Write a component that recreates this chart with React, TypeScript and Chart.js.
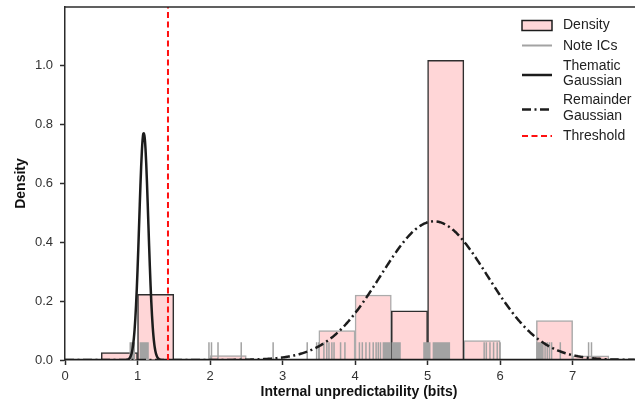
import React, { useEffect, useRef } from "react";
import { Chart, registerables } from "chart.js";

Chart.register(...registerables);

const FONT = '"Liberation Sans", Arial, Helvetica, sans-serif';

// Histogram bins (left edge, density); bin width 0.5 bits
const BIN_WIDTH = 0.5;
const BIN_STARTS_OUTLINED = [0.5, 1.0, 4.5, 5.0];
const DENSITY_OUTLINED = [0.025, 0.223, 0.167, 1.019];
const BIN_STARTS_PALE = [2.0, 3.5, 4.0, 5.5, 6.5, 7.0];
const DENSITY_PALE = [0.015, 0.1, 0.221, 0.066, 0.134, 0.014];

// Internal unpredictability of each note (rug marks)
const NOTE_ICS = [
  0.9, 0.92, 0.94, 0.955, 1.04, 1.055, 1.07, 1.085, 1.1, 1.115, 1.13, 1.145,
  1.985, 2.02, 2.11, 2.43, 2.87, 3.34,
  3.47, 3.5, 3.57, 3.61, 3.64, 3.68, 3.71, 3.8, 3.86,
  4.06, 4.1, 4.15, 4.2, 4.25, 4.29, 4.32, 4.35, 4.39, 4.41, 4.43, 4.45, 4.47,
  4.49, 4.52, 4.54, 4.56, 4.58, 4.6, 4.62,
  4.95, 4.97, 4.99, 5.01, 5.03, 5.08, 5.1, 5.12, 5.14, 5.16, 5.18, 5.2, 5.22,
  5.24, 5.26, 5.28, 5.3,
  5.78, 5.81, 5.86, 5.91, 5.96, 6.0,
  6.51, 6.53, 6.55, 6.57, 6.59, 6.62, 6.65, 6.68, 6.71, 6.83,
  7.22, 7.26,
];
const RUG_HEIGHT = 0.06;

// Two-component mixture fit: weight, mean, standard deviation
const THEMATIC_FIT = { weight: 0.122, mean: 1.086, sd: 0.063 };
const REMAINDER_FIT = { weight: 0.872, mean: 5.088, sd: 0.738 };
const THRESHOLD = 1.42;

const X_MIN = 0;
const X_MAX = 7.86;
const Y_MIN = 0;
const Y_MAX = 1.2;
const X_TICKS = [0, 1, 2, 3, 4, 5, 6, 7];
const Y_TICKS = [0, 0.2, 0.4, 0.6, 0.8, 1.0];

const BAR_FILL = "#ffd6d7";
const DARK = "#1c1c1c";
const AXIS = "#2b2b2b";
const RUG = "#a3a3a3";
const RED = "#ff1010";

function gaussianCurve(fit: { weight: number; mean: number; sd: number }) {
  const pts: { x: number; y: number }[] = [];
  const step = 0.01;
  const n = Math.round((X_MAX - X_MIN) / step);
  for (let i = 0; i <= n; i++) {
    const x = X_MIN + i * step;
    const z = (x - fit.mean) / fit.sd;
    const y = (fit.weight / (fit.sd * Math.sqrt(2 * Math.PI))) * Math.exp(-0.5 * z * z);
    pts.push({ x, y });
  }
  return pts;
}

function rugPoints(values: number[]) {
  const pts: { x: number; y: number | null }[] = [];
  values.forEach((v) => {
    pts.push({ x: v, y: 0 });
    pts.push({ x: v, y: RUG_HEIGHT });
    pts.push({ x: v, y: null });
  });
  return pts;
}

const overlayPlugin = {
  id: "overlay",
  afterDraw(chart: any) {
    const { ctx, chartArea } = chart;
    ctx.save();

    // top spine
    ctx.strokeStyle = AXIS;
    ctx.lineWidth = 1.5;
    ctx.beginPath();
    ctx.moveTo(chartArea.left, chartArea.top);
    ctx.lineTo(chart.width, chartArea.top);
    ctx.stroke();

    // axis titles
    ctx.fillStyle = "#111";
    ctx.font = `bold 14px ${FONT}`;
    ctx.textAlign = "center";
    ctx.textBaseline = "middle";
    ctx.fillText("Internal unpredictability (bits)", 359, 392);
    ctx.save();
    ctx.translate(21, (chartArea.top + chartArea.bottom) / 2);
    ctx.rotate(-Math.PI / 2);
    ctx.fillText("Density", 0, 0);
    ctx.restore();

    // legend
    const x0 = 522;
    const x1 = 552;
    const tx = 563;
    ctx.textAlign = "left";
    ctx.font = `14px ${FONT}`;

    ctx.fillStyle = BAR_FILL;
    ctx.fillRect(x0, 20.5, x1 - x0, 10);
    ctx.strokeStyle = DARK;
    ctx.lineWidth = 1.5;
    ctx.strokeRect(x0, 20.5, x1 - x0, 10);

    const seg = (y: number, color: string, width: number, dash: number[]) => {
      ctx.strokeStyle = color;
      ctx.lineWidth = width;
      ctx.setLineDash(dash);
      ctx.beginPath();
      ctx.moveTo(x0, y);
      ctx.lineTo(x1, y);
      ctx.stroke();
      ctx.setLineDash([]);
    };
    seg(45.5, RUG, 2, []);
    seg(75, DARK, 2.5, []);
    seg(109.5, DARK, 2.5, [9, 3.5, 2, 3.5]);
    seg(136, RED, 2, [6, 3.5]);

    ctx.fillStyle = "#222";
    ctx.fillText("Density", tx, 25.5);
    ctx.fillText("Note ICs", tx, 46);
    ctx.fillText("Thematic", tx, 66);
    ctx.fillText("Gaussian", tx, 81);
    ctx.fillText("Remainder", tx, 100.5);
    ctx.fillText("Gaussian", tx, 116.5);
    ctx.fillText("Threshold", tx, 136);

    ctx.restore();
  },
};

export default function App() {
  const canvasRef = useRef<HTMLCanvasElement | null>(null);

  useEffect(() => {
    document.body.style.margin = "0";
    const canvas = canvasRef.current;
    if (!canvas) return;

    const barDataset = (starts: number[], heights: number[], edge: string, order: number) => ({
      type: "bar" as const,
      label: "Density",
      data: starts.map((s, i) => ({ x: s + BIN_WIDTH / 2, y: heights[i] })),
      backgroundColor: BAR_FILL,
      borderColor: edge,
      borderWidth: 1.5,
      barPercentage: 1,
      categoryPercentage: 1,
      grouped: false,
      order,
    });

    const chart = new Chart(canvas, {
      type: "bar",
      data: {
        datasets: [
          {
            type: "line",
            label: "Threshold",
            data: [
              { x: THRESHOLD, y: Y_MIN },
              { x: THRESHOLD, y: Y_MAX },
            ],
            borderColor: RED,
            borderWidth: 2,
            borderDash: [6, 3.5],
            pointRadius: 0,
            order: 0,
          },
          {
            type: "line",
            label: "Remainder Gaussian",
            data: gaussianCurve(REMAINDER_FIT),
            borderColor: DARK,
            borderWidth: 2.5,
            borderDash: [9, 3.5, 2, 3.5],
            pointRadius: 0,
            cubicInterpolationMode: "monotone",
            order: 1,
          },
          {
            type: "line",
            label: "Thematic Gaussian",
            data: gaussianCurve(THEMATIC_FIT),
            borderColor: DARK,
            borderWidth: 2.5,
            pointRadius: 0,
            cubicInterpolationMode: "monotone",
            order: 2,
          },
          {
            type: "line",
            label: "Note ICs",
            data: rugPoints(NOTE_ICS),
            borderColor: RUG,
            borderWidth: 1.5,
            pointRadius: 0,
            spanGaps: false,
            order: 3,
          },
          barDataset(BIN_STARTS_OUTLINED, DENSITY_OUTLINED, "#2e2e2e", 4),
          barDataset(BIN_STARTS_PALE, DENSITY_PALE, "#ababab", 5),
        ] as any,
      },
      options: {
        responsive: false,
        animation: false,
        events: [],
        layout: { padding: { top: 7, right: 0, bottom: 0, left: 0 } },
        font: { family: FONT },
        plugins: {
          legend: { display: false },
          tooltip: { enabled: false },
          title: { display: false },
        },
        scales: {
          x: {
            type: "linear",
            position: "bottom",
            min: X_MIN,
            max: X_MAX,
            offset: false,
            grid: {
              display: true,
              offset: false,
              drawOnChartArea: false,
              drawTicks: true,
              tickLength: 5,
              tickColor: AXIS,
              tickWidth: 1.5,
            },
            border: { display: true, color: AXIS, width: 1.5 },
            ticks: {
              autoSkip: false,
              maxRotation: 0,
              padding: 4,
              color: "#333",
              font: { family: FONT, size: 13 },
              callback: (v: any) => String(v),
            },
            afterBuildTicks: (axis: any) => {
              axis.ticks = X_TICKS.map((v) => ({ value: v }));
            },
            afterFit: (axis: any) => {
              axis.height = 45;
              axis.paddingLeft = 0;
              axis.paddingRight = 0;
            },
          },
          y: {
            type: "linear",
            min: Y_MIN,
            max: Y_MAX,
            grid: {
              display: true,
              drawOnChartArea: false,
              drawTicks: true,
              tickLength: 5,
              tickColor: AXIS,
              tickWidth: 1.5,
            },
            border: { display: true, color: AXIS, width: 1.5 },
            ticks: {
              padding: 7,
              color: "#333",
              font: { family: FONT, size: 13 },
              callback: (v: any) => Number(v).toFixed(1),
            },
            afterBuildTicks: (axis: any) => {
              axis.ticks = Y_TICKS.map((v) => ({ value: v }));
            },
            afterFit: (axis: any) => {
              axis.width = 65;
              axis.paddingTop = 0;
              axis.paddingBottom = 0;
            },
          },
        },
      } as any,
      plugins: [overlayPlugin],
    });

    return () => {
      chart.destroy();
    };
  }, []);

  return (
    <div style={{ width: 635, height: 405, background: "#fff" }}>
      <canvas ref={canvasRef} width={635} height={405} style={{ display: "block" }} />
    </div>
  );
}
